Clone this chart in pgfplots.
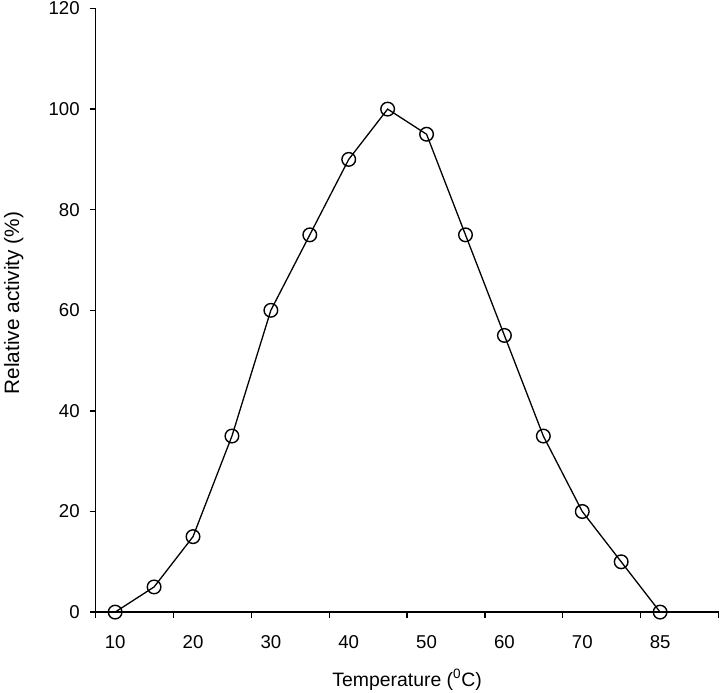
\documentclass[border=0pt]{standalone}
\usepackage{fontspec}
\setmainfont{Liberation Sans}
\usepackage{pgfplots}
\pgfplotsset{compat=1.18}
\begin{document}
\begin{tikzpicture}
\begin{axis}[
  name=ax,
  scale only axis,
  width=622.8bp, height=603.6bp,
  xmin=-0.5, xmax=15.5,
  ymin=0, ymax=120,
  axis lines=left,
  axis line style={-, line width=1.4bp},
  clip=false,
  font=\fontsize{18.6bp}{22bp}\selectfont,
  /pgf/number format/assume math mode=true,
  tick align=outside,
  tick style={line width=1.3bp, black},
  major tick length=5.5bp,
  xtick={-0.5,1.5,...,15.5},
  xticklabels={},
  extra x ticks={0,2,4,6,8,10,12,14},
  extra x tick labels={10,20,30,40,50,60,70,85},
  extra x tick style={major tick length=0pt, tick label style={yshift=-20bp}},
  ytick={0,20,...,120},
  yticklabel style={xshift=-7bp},
  every axis x label/.style={at={(axis description cs:0.5,-0.112)}, anchor=center, font=\fontsize{19.4bp}{23bp}\selectfont},
  every axis y label/.style={at={(axis description cs:-0.1317,0.512)}, rotate=90, anchor=center, font=\fontsize{20.8bp}{24bp}\selectfont},
  xlabel={Temperature (\textsuperscript{0}C)},
  ylabel={Relative activity (\%)},
]
\addplot[black, line width=1.3bp, mark=o, mark size=6.8bp, mark options={fill=white, line width=1.4bp}]
coordinates {
(0,0) (1,5) (2,15) (3,35) (4,60) (5,75) (6,90) (7,100) (8,95) (9,75) (10,55) (11,35) (12,20) (13,10) (14,0)
};
\end{axis}
\pgfresetboundingbox
\path ([xshift=-95.7bp, yshift=-80bp]ax.south west) rectangle ([xshift=1.5bp, yshift=8.5bp]ax.north east);
\end{tikzpicture}
\end{document}
